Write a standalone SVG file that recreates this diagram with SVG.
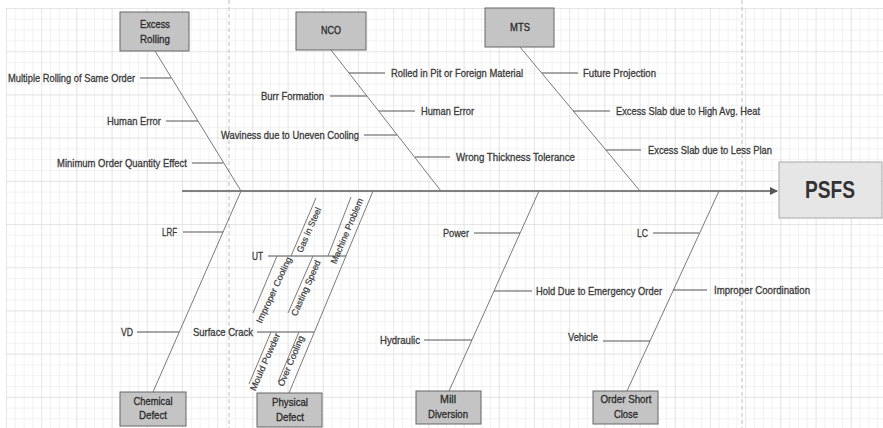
<svg xmlns="http://www.w3.org/2000/svg" width="883" height="428" viewBox="0 0 883 428">
<style>
.t{font-family:"Liberation Sans Narrow","Liberation Sans",Arial,sans-serif;font-size:11px;fill:#3a3a3a;stroke:#3a3a3a;stroke-width:0.3}
.b{font-family:"Liberation Sans Narrow","Liberation Sans",Arial,sans-serif;font-size:11px;fill:#2a2a2a;stroke:#2a2a2a;stroke-width:0.3;text-anchor:middle}
.r{font-family:"Liberation Sans Narrow","Liberation Sans",Arial,sans-serif;font-size:9px;fill:#3a3a3a;stroke:#3a3a3a;stroke-width:0.2;text-anchor:middle}
.box{fill:#c4c4c4;stroke:#666;stroke-width:1}
.bone{stroke:#7a7a7a;stroke-width:1;fill:none}
.br{stroke:#555;stroke-width:1;fill:none}
.dash{stroke:#bdbdbd;stroke-width:1;stroke-dasharray:4 3}
</style>
<defs>
<pattern id="minor" width="8.8" height="10.8" patternUnits="userSpaceOnUse" x="6" y="8">
<path d="M0 0V10.8M0 0H8.8" stroke="#e6e6e6" stroke-width="1" fill="none"/>
</pattern>
<pattern id="major" width="35.2" height="43.2" patternUnits="userSpaceOnUse" x="6" y="8">
<path d="M0 0V43.2M0 0H35.2" stroke="#d9d9d9" stroke-width="1" fill="none"/>
</pattern>
<marker id="arr" markerWidth="8" markerHeight="8" refX="7" refY="4" orient="auto" markerUnits="userSpaceOnUse">
<path d="M0 0L8 4L0 8Z" fill="#555"/>
</marker>
</defs>
<rect width="883" height="428" fill="#fff"/>
<g id="grid">
<rect x="6" y="8" width="877" height="420" fill="url(#minor)"/>
<rect x="6" y="8" width="877" height="420" fill="url(#major)"/>
<line class="dash" x1="229" y1="0" x2="229" y2="428"/>
<line class="dash" x1="742" y1="0" x2="742" y2="428"/>
</g>
<g id="connectors">
<line x1="182" y1="191" x2="777" y2="191" stroke="#808080" stroke-width="2" marker-end="url(#arr)"/>
<line class="bone" x1="155" y1="51" x2="241" y2="191"/>
<line class="bone" x1="331" y1="50" x2="441" y2="191"/>
<line class="bone" x1="520" y1="47" x2="640" y2="191"/>
<line class="bone" x1="241" y1="191" x2="153" y2="392"/>
<line class="bone" x1="373" y1="191" x2="289" y2="393"/>
<line class="bone" x1="539" y1="191" x2="449" y2="391"/>
<line class="bone" x1="719" y1="191" x2="627" y2="391"/>
<line class="br" x1="140" y1="78" x2="171" y2="78"/>
<line class="br" x1="166" y1="121" x2="198" y2="121"/>
<line class="br" x1="192" y1="163" x2="223" y2="163"/>
<line class="br" x1="349" y1="73" x2="385" y2="73"/>
<line class="br" x1="330" y1="96" x2="367" y2="96"/>
<line class="br" x1="379" y1="111" x2="415" y2="111"/>
<line class="br" x1="364" y1="135" x2="397" y2="135"/>
<line class="br" x1="415" y1="157" x2="450" y2="157"/>
<line class="br" x1="542" y1="73" x2="578" y2="73"/>
<line class="br" x1="573" y1="111" x2="610" y2="111"/>
<line class="br" x1="606" y1="150" x2="641" y2="150"/>
<line class="br" x1="183" y1="232" x2="223" y2="232"/>
<line class="br" x1="137" y1="332" x2="179" y2="332"/>
<line class="br" x1="268" y1="256" x2="346" y2="256"/>
<line class="br" x1="257" y1="332" x2="314" y2="332"/>
<line class="br" x1="474" y1="233" x2="520" y2="233"/>
<line class="br" x1="494" y1="291" x2="532" y2="291"/>
<line class="br" x1="424" y1="340" x2="472" y2="340"/>
<line class="br" x1="653" y1="233" x2="699" y2="233"/>
<line class="br" x1="673" y1="290" x2="707" y2="290"/>
<line class="br" x1="603" y1="341" x2="650" y2="341"/>
<line class="bone" x1="291" y1="256" x2="316" y2="198"/>
<line class="bone" x1="328" y1="256" x2="351" y2="197"/>
<line class="bone" x1="277" y1="256" x2="253" y2="313"/>
<line class="bone" x1="313" y1="256" x2="288" y2="313"/>
<line class="bone" x1="271" y1="332" x2="249" y2="384"/>
<line class="bone" x1="299" y1="332" x2="278" y2="382"/>
</g>
<g id="psfs">
<rect x="779" y="162" width="103" height="56" fill="#e6e6e6" stroke="#a8a8a8"/>
<text x="830" y="198" font-family="'Liberation Sans Narrow','Liberation Sans',Arial,sans-serif" font-size="24" font-weight="bold" fill="#333" text-anchor="middle" textLength="50" lengthAdjust="spacingAndGlyphs">PSFS</text>
</g>
<g id="excess-rolling">
<rect class="box" x="120" y="12" width="69" height="39"/>
<text class="b" x="155" y="28" textLength="30" lengthAdjust="spacingAndGlyphs">Excess</text>
<text class="b" x="155" y="43" textLength="30" lengthAdjust="spacingAndGlyphs">Rolling</text>
</g>
<g id="nco">
<rect class="box" x="296" y="12" width="70" height="38"/>
<text class="b" x="331" y="34" textLength="20" lengthAdjust="spacingAndGlyphs">NCO</text>
</g>
<g id="mts">
<rect class="box" x="485" y="8" width="69" height="39"/>
<text class="b" x="520" y="31" textLength="20" lengthAdjust="spacingAndGlyphs">MTS</text>
</g>
<g id="chemical-defect">
<rect class="box" x="120" y="392" width="66" height="34"/>
<text class="b" x="153" y="405" textLength="39" lengthAdjust="spacingAndGlyphs">Chemical</text>
<text class="b" x="153" y="419" textLength="28" lengthAdjust="spacingAndGlyphs">Defect</text>
</g>
<g id="physical-defect">
<rect class="box" x="257" y="393" width="65" height="34"/>
<text class="b" x="290" y="406" textLength="36" lengthAdjust="spacingAndGlyphs">Physical</text>
<text class="b" x="290" y="421" textLength="28" lengthAdjust="spacingAndGlyphs">Defect</text>
</g>
<g id="mill-diversion">
<rect class="box" x="416" y="391" width="65" height="33"/>
<text class="b" x="448" y="403" textLength="16" lengthAdjust="spacingAndGlyphs">Mill</text>
<text class="b" x="448" y="418" textLength="40" lengthAdjust="spacingAndGlyphs">Diversion</text>
</g>
<g id="order-short-close">
<rect class="box" x="593" y="391" width="65" height="33"/>
<text class="b" x="626" y="403" textLength="51" lengthAdjust="spacingAndGlyphs">Order Short</text>
<text class="b" x="626" y="418" textLength="24" lengthAdjust="spacingAndGlyphs">Close</text>
</g>
<g id="causes">
<text class="t" x="8" y="82" textLength="127" lengthAdjust="spacingAndGlyphs">Multiple Rolling of Same Order</text>
<text class="t" x="107" y="125" textLength="54" lengthAdjust="spacingAndGlyphs">Human Error</text>
<text class="t" x="57" y="167" textLength="130" lengthAdjust="spacingAndGlyphs">Minimum Order Quantity Effect</text>
<text class="t" x="391" y="77" textLength="132" lengthAdjust="spacingAndGlyphs">Rolled in Pit or Foreign Material</text>
<text class="t" x="261" y="100" textLength="63" lengthAdjust="spacingAndGlyphs">Burr Formation</text>
<text class="t" x="421" y="115" textLength="53" lengthAdjust="spacingAndGlyphs">Human Error</text>
<text class="t" x="221" y="139" textLength="138" lengthAdjust="spacingAndGlyphs">Waviness due to Uneven Cooling</text>
<text class="t" x="456" y="161" textLength="119" lengthAdjust="spacingAndGlyphs">Wrong Thickness Tolerance</text>
<text class="t" x="583" y="77" textLength="73" lengthAdjust="spacingAndGlyphs">Future Projection</text>
<text class="t" x="616" y="115" textLength="144" lengthAdjust="spacingAndGlyphs">Excess Slab due to High Avg. Heat</text>
<text class="t" x="648" y="154" textLength="124" lengthAdjust="spacingAndGlyphs">Excess Slab due to Less Plan</text>
<text class="t" x="162" y="236" textLength="15" lengthAdjust="spacingAndGlyphs">LRF</text>
<text class="t" x="121" y="336" textLength="12" lengthAdjust="spacingAndGlyphs">VD</text>
<text class="t" x="252" y="260" textLength="11" lengthAdjust="spacingAndGlyphs">UT</text>
<text class="t" x="193" y="336" textLength="60" lengthAdjust="spacingAndGlyphs">Surface Crack</text>
<text class="t" x="443" y="237" textLength="26" lengthAdjust="spacingAndGlyphs">Power</text>
<text class="t" x="536" y="295" textLength="126" lengthAdjust="spacingAndGlyphs">Hold Due to Emergency Order</text>
<text class="t" x="380" y="344" textLength="40" lengthAdjust="spacingAndGlyphs">Hydraulic</text>
<text class="t" x="637" y="237" textLength="11" lengthAdjust="spacingAndGlyphs">LC</text>
<text class="t" x="714" y="294" textLength="96" lengthAdjust="spacingAndGlyphs">Improper Coordination</text>
<text class="t" x="568" y="341" textLength="30" lengthAdjust="spacingAndGlyphs">Vehicle</text>
</g>
<g id="sub-causes">
<text class="r" transform="translate(309 230) rotate(-66)" y="3" textLength="48" lengthAdjust="spacingAndGlyphs">Gas in Steel</text>
<text class="r" transform="translate(347 231) rotate(-67)" y="3" textLength="70" lengthAdjust="spacingAndGlyphs">Machine Problem</text>
<text class="r" transform="translate(274 290) rotate(-65)" y="3" textLength="72" lengthAdjust="spacingAndGlyphs">Improper Cooling</text>
<text class="r" transform="translate(306 288) rotate(-66)" y="3" textLength="60" lengthAdjust="spacingAndGlyphs">Casting Speed</text>
<text class="r" transform="translate(265 362) rotate(-66)" y="3" textLength="62" lengthAdjust="spacingAndGlyphs">Mould Powder</text>
<text class="r" transform="translate(291 361) rotate(-67)" y="3" textLength="54" lengthAdjust="spacingAndGlyphs">Over Cooling</text>
</g>
</svg>
